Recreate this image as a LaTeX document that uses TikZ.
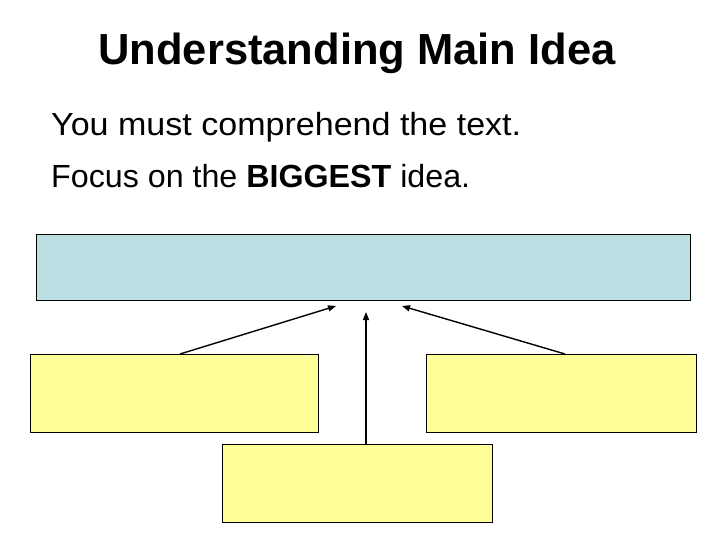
\documentclass[tikz,border=0pt]{standalone}
\usepackage{fontspec}
\setmainfont{Liberation Sans}
\usetikzlibrary{arrows.meta,calc}
\definecolor{boxblue}{HTML}{BBE0E3}
\definecolor{boxyellow}{HTML}{FFFF99}
\tikzset{
  bluebox/.style={draw=black,line width=1.2pt,fill=boxblue,rectangle,inner sep=0pt},
  yellowbox/.style={draw=black,line width=1.2pt,fill=boxyellow,rectangle,inner sep=0pt},
  conn/.style={draw=black,line width=1.4pt,-{Triangle[length=8pt,width=6pt]}},
  txt/.style={inner sep=0pt,anchor=base west,font=\fontsize{32}{36}\selectfont}
}
\begin{document}
\begin{tikzpicture}[x=1pt,y=-1pt]
\useasboundingbox (0,0) rectangle (720,540);
\node[inner sep=0pt,anchor=base,font=\fontsize{43.5}{50}\selectfont\bfseries] (title) at (357,65) {Understanding Main Idea};
\node[txt] (l1) at (51,136) {\resizebox{470pt}{\height}{You must comprehend the text.}};
\node[txt] (l2) at (51,188) {\resizebox{419pt}{\height}{Focus on the \textbf{BIGGEST} idea.}};
\node[bluebox,minimum width=654pt,minimum height=66pt,anchor=north west] (top) at (36,234) {};
\node[yellowbox,minimum width=288pt,minimum height=78pt,anchor=north west] (left) at (30,354) {};
\node[yellowbox,minimum width=270pt,minimum height=78pt,anchor=north west] (right) at (426,354) {};
\node[yellowbox,minimum width=270pt,minimum height=78pt,anchor=north west] (bottom) at (222,444) {};
\coordinate (tl) at (336,306);
\coordinate (tm) at (366,312);
\coordinate (tr) at (402,306);
\draw[conn] ([xshift=150pt]left.north west) -- (tl);
\draw[conn] ([xshift=144pt]bottom.north west) -- (tm);
\draw[conn] ([xshift=139pt]right.north west) -- (tr);
\end{tikzpicture}
\end{document}
